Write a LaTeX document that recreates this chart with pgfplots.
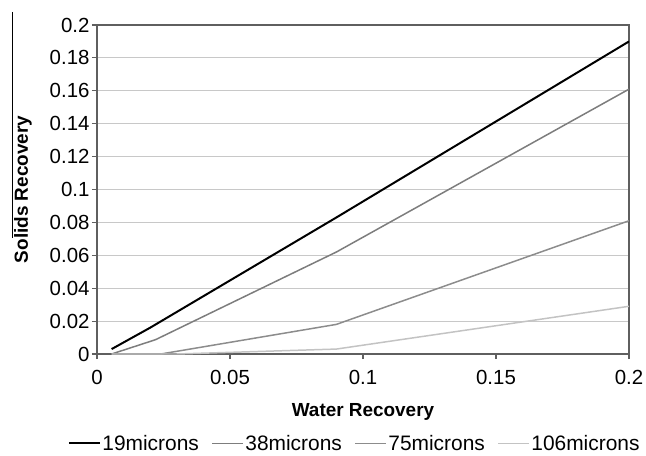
\documentclass[border=0pt]{standalone}
\usepackage{pgfplots}
\pgfplotsset{compat=1.18}
\usepackage{fontspec}
\setmainfont{Liberation Sans}

\definecolor{axgray}{RGB}{95,95,95}
\definecolor{gridgray}{RGB}{200,200,200}
\definecolor{c38}{RGB}{125,125,125}
\definecolor{c75}{RGB}{140,140,140}
\definecolor{c106}{RGB}{195,195,195}

\begin{document}
\begin{tikzpicture}[x=1bp,y=1bp]
% page = 646 x 456, axis box from (97,25) to (629,354) in image pixels
\useasboundingbox (-97bp,-102bp) rectangle (549bp,354bp);
\draw[black, line width=1pt] (-85bp,342bp) -- (-85bp,116bp);
\begin{axis}[
    at={(0,0)}, anchor=south west,
    scale only axis,
    width=532bp, height=329bp,
    xmin=0, xmax=0.2,
    ymin=0, ymax=0.2,
    xtick={0,0.05,0.1,0.15,0.2},
    ytick={0,0.02,0.04,0.06,0.08,0.1,0.12,0.14,0.16,0.18,0.2},
    xticklabels={0,0.05,0.1,0.15,0.2},
    yticklabels={0,0.02,0.04,0.06,0.08,0.1,0.12,0.14,0.16,0.18,0.2},
    xtick pos=bottom, ytick pos=left,
    tick align=outside,
    major tick length=5bp,
    tick style={axgray, line width=1.2pt},
    axis line style={axgray, line width=1.8pt},
    ymajorgrids=true,
    grid style={gridgray, line width=1pt},
    ticklabel style={font=\fontsize{20.5}{22}\selectfont},
    yticklabel style={xshift=1bp},
    xticklabel style={yshift=-8bp},
    xlabel={\textbf{Water Recovery}},
    ylabel={\textbf{Solids Recovery}},
    label style={font=\fontsize{19}{21}\selectfont},
    xlabel style={at={(axis description cs:0.5,-0.176)}, anchor=center},
    ylabel style={at={(axis description cs:-0.139,0.5)}, anchor=center},
    legend style={
        at={(axis description cs:0.484,-0.272)}, anchor=center,
        draw=none, fill=none, legend columns=4,
        font=\fontsize{21}{23}\selectfont,
        inner sep=0pt, nodes={inner sep=1.5bp},
        /tikz/every even column/.append style={column sep=11bp},
    },
    legend image code/.code={\draw[#1] (0bp,0bp) -- (31bp,0bp);},
    legend cell align=left,
]
\addplot[black, line width=2pt] coordinates {
    (0.0055,0.003) (0.02,0.016) (0.09,0.083) (0.2,0.19)
};
\addplot[c38, line width=1.5pt] coordinates {
    (0.0055,0) (0.022,0.0087) (0.09,0.062) (0.2,0.161)
};
\addplot[c75, line width=1.5pt] coordinates {
    (0.0055,0) (0.024,0) (0.09,0.018) (0.2,0.081)
};
\addplot[c106, line width=1.5pt] coordinates {
    (0.0055,0) (0.03,0) (0.09,0.003) (0.2,0.029)
};
\legend{19microns,38microns,75microns,106microns}
\end{axis}
\end{tikzpicture}
\end{document}
